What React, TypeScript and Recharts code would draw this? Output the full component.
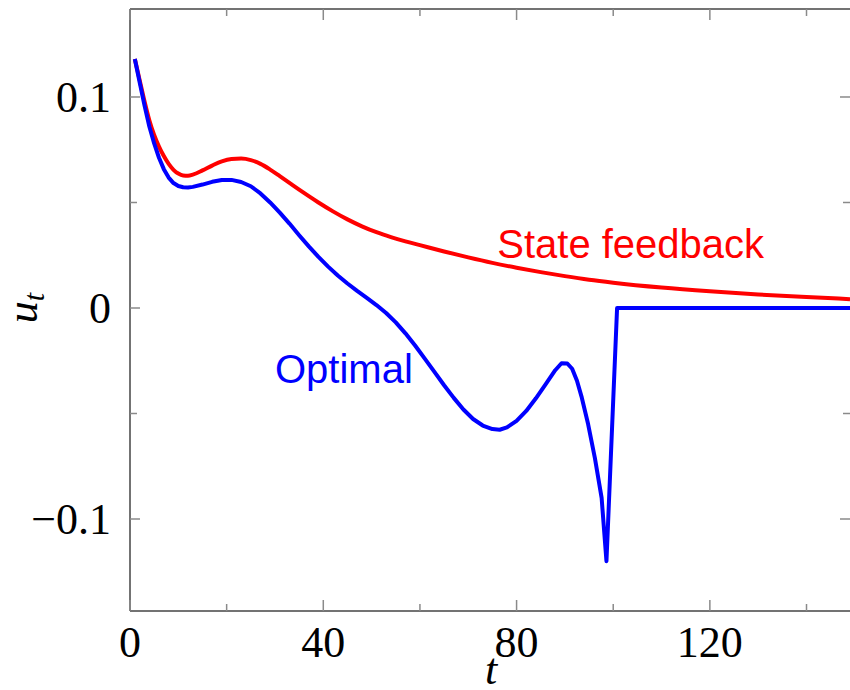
import React from "react";
import {
  LineChart,
  Line,
  XAxis,
  YAxis,
  ReferenceDot,
  ReferenceLine,
} from "recharts";

// state feedback control u_t
const feedbackT = [
  1, 2, 3, 4, 5, 6, 7, 8, 9, 10, 11, 12, 13, 15, 17, 19, 21, 23, 25, 27, 29,
  31, 33, 35, 37, 39, 42, 45, 48, 51, 54, 57, 60, 65, 70, 75, 80, 85, 90, 95,
  100, 110, 120, 130, 140, 149,
];
const feedbackU = [
  0.118, 0.108, 0.098, 0.089, 0.082, 0.0765, 0.072, 0.0683, 0.0655, 0.0637,
  0.0628, 0.0627, 0.0632, 0.0652, 0.0675, 0.0695, 0.0706, 0.0708, 0.0701,
  0.0683, 0.0656, 0.0625, 0.0593, 0.0561, 0.053, 0.05, 0.0458, 0.042, 0.0387,
  0.0359, 0.0336, 0.0316, 0.0298, 0.0268, 0.024, 0.0214, 0.0191, 0.017,
  0.0151, 0.0134, 0.012, 0.0097, 0.0079, 0.0064, 0.0052, 0.0042,
];

// optimal control u_t
const optimalT = [
  1, 2, 3, 4, 5, 6, 7, 8, 9, 10, 11, 12, 13, 15, 17, 19, 21, 23, 25, 27, 29,
  31, 33, 35, 37, 39, 41, 43, 45, 47, 49, 51, 53, 55, 57, 59, 61, 63, 65, 67,
  69, 71, 73, 75, 76.5, 78, 80, 82, 84, 86, 88, 89.3, 90.5, 91.5, 92.5, 93.5,
  94.8, 96.2, 97.6, 98.6, 100.8, 149,
];
const optimalU = [
  0.118, 0.107, 0.096, 0.086, 0.078, 0.0712, 0.0658, 0.0618, 0.0592, 0.0578,
  0.0572, 0.0571, 0.0574, 0.0585, 0.0598, 0.0607, 0.0607, 0.0597, 0.0577,
  0.0543, 0.05, 0.0452, 0.04, 0.0345, 0.0292, 0.0242, 0.0196, 0.0154, 0.0116,
  0.0081, 0.0048, 0.0014, -0.0024, -0.0068, -0.012, -0.0178, -0.024, -0.0303,
  -0.0366, -0.0426, -0.0481, -0.0526, -0.0557, -0.0574, -0.0577, -0.0566,
  -0.0535, -0.0488, -0.0428, -0.0362, -0.0295, -0.0262, -0.0263, -0.0288,
  -0.0345, -0.0425, -0.055, -0.071, -0.09, -0.12, 0, 0,
];

const xTicks = [0, 20, 40, 60, 80, 100, 120, 140];
const xLabelled = [0, 40, 80, 120];
const yTicks = [-0.1, -0.05, 0, 0.05, 0.1];
const yLabels: Record<string, string> = { "-0.1": "\u22120.1", "0": "0", "0.1": "0.1" };

const feedbackData = feedbackT.map((t, i) => ({ t, u: feedbackU[i] }));
const optimalData = optimalT.map((t, i) => ({ t, u: optimalU[i] }));

const xDomain = [0, 149];
const yDomain = [-0.1436, 0.1417];

// layout
const W = 850;
const H = 690;
const TOP = 9;
const LEFT_W = 130;
const BOTTOM_H = 79;
const PLOT_H = H - TOP - BOTTOM_H;
const PLOT_W = W - LEFT_W;

const serif = "'Liberation Serif', 'DejaVu Serif', serif";
const sans = "'Liberation Sans', Arial, sans-serif";
const tickColor = "#8a8a8a";
const frameColor = "#444";

// bottom ticks + labels, plus the top border and its inward ticks
const BottomTick = (props: any) => {
  const { x, y, payload } = props;
  const major = xLabelled.includes(payload.value);
  const len = major ? 11 : 7;
  const top = y - PLOT_H;
  return (
    <g>
      {payload.value === xTicks[0] && (
        <line x1={x} x2={x + PLOT_W} y1={top} y2={top} stroke={frameColor} strokeWidth={1.5} />
      )}
      <line x1={x} x2={x} y1={y} y2={y - len} stroke={tickColor} strokeWidth={1.5} />
      <line x1={x} x2={x} y1={top} y2={top + len} stroke={tickColor} strokeWidth={1.5} />
      {major && (
        <text x={x} y={y + 46} textAnchor="middle" fontFamily={serif} fontSize={44} fill="#000">
          {payload.value}
        </text>
      )}
    </g>
  );
};

const LeftTick = (props: any) => {
  const { x, y, payload } = props;
  const label = yLabels[String(payload.value)];
  return (
    <g>
      <line x1={x} x2={x + (label ? 10 : 7)} y1={y} y2={y} stroke={tickColor} strokeWidth={1.5} />
      {label && (
        <text x={x - 19} y={y + 15} textAnchor="end" fontFamily={serif} fontSize={44} fill="#000">
          {label}
        </text>
      )}
    </g>
  );
};

// short inward tick on the right border
const rightTick = (len: number) => (p: any) => {
  const right = Math.max(p.x1, p.x2);
  return <line x1={right} x2={right - len} y1={p.y1} y2={p.y1} stroke={tickColor} strokeWidth={1.5} />;
};

const textShape = (text: string, color: string) => (props: any) => (
  <text x={props.cx} y={props.cy} fontFamily={sans} fontSize={40} fill={color}>
    {text}
  </text>
);

export default function App() {
  return (
    <div style={{ position: "absolute", left: 0, top: 0, width: W, height: H, overflow: "hidden" }}>
      <LineChart width={W} height={H} margin={{ top: TOP, right: 0, bottom: 0, left: 0 }}>
        <XAxis
          dataKey="t"
          type="number"
          domain={xDomain}
          ticks={xTicks}
          interval={0}
          height={BOTTOM_H}
          tickSize={0}
          tickMargin={0}
          tickLine={false}
          tick={BottomTick}
          axisLine={{ stroke: frameColor, strokeWidth: 1.5 }}
          allowDataOverflow
          label={{
            content: () => (
              <text x={491} y={684} textAnchor="middle" fontFamily={serif} fontStyle="italic" fontSize={44}>
                t
              </text>
            ),
          }}
        />
        <YAxis
          type="number"
          domain={yDomain}
          ticks={yTicks}
          interval={0}
          width={LEFT_W}
          tickSize={0}
          tickMargin={0}
          tickLine={false}
          tick={LeftTick}
          axisLine={{ stroke: frameColor, strokeWidth: 1.5 }}
          allowDataOverflow
          label={{
            content: () => (
              <text
                transform="translate(37,308) rotate(-90)"
                textAnchor="middle"
                fontFamily={serif}
                fontStyle="italic"
                fontSize={44}
              >
                <tspan>u</tspan>
                <tspan dy={7} fontSize={30}>t</tspan>
              </text>
            ),
          }}
        />
        {yTicks.map((v) => (
          <ReferenceLine key={"ry" + v} y={v} shape={rightTick(yLabels[String(v)] ? 10 : 7)} />
        ))}
        <Line
          data={feedbackData}
          dataKey="u"
          type="monotone"
          stroke="#ff0000"
          strokeWidth={4}
          dot={false}
          activeDot={false}
          isAnimationActive={false}
        />
        <Line
          data={optimalData}
          dataKey="u"
          type="linear"
          stroke="#0000ff"
          strokeWidth={4}
          strokeLinejoin="round"
          dot={false}
          activeDot={false}
          isAnimationActive={false}
        />
        <ReferenceDot x={76} y={0.0237} r={0} shape={textShape("State feedback", "#ff0000")} />
        <ReferenceDot x={30} y={-0.0356} r={0} shape={textShape("Optimal", "#0000ff")} />
      </LineChart>
    </div>
  );
}
